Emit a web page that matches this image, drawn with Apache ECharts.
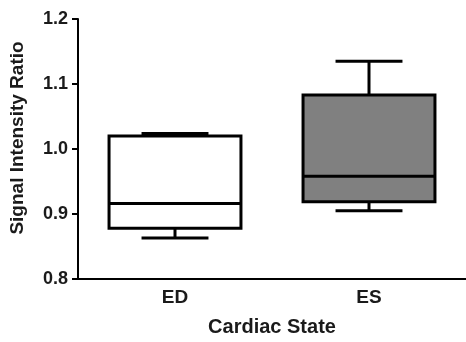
<!DOCTYPE html>
<html>
<head>
<meta charset="utf-8">
<script src="https://cdn.jsdelivr.net/npm/echarts@6/dist/echarts.min.js"></script>
<style>
  html, body { margin: 0; padding: 0; background: #fff; }
  #chart { width: 466px; height: 342px; }
</style>
</head>
<body>
<div id="chart"></div>
<script>
// categories and box statistics
const states = ['ED', 'ES'];
const whiskerLow = [0.863, 0.905];
const quartile1 = [0.878, 0.919];
const medians = [0.916, 0.958];
const quartile3 = [1.020, 1.083];
const whiskerHigh = [1.024, 1.135];
const boxFills = ['#ffffff', '#808080'];

const boxData = states.map((s, i) => [i, whiskerLow[i], quartile1[i], medians[i], quartile3[i], whiskerHigh[i]]);

const chart = echarts.init(document.getElementById('chart'));

const textColor = '#1a1a1a';
const fontFamily = '"Liberation Sans", Arial, sans-serif';

// draws one box with half-width whisker caps
function renderBox(params, api) {
  const idx = api.value(0);
  const band = api.size([1, 0])[0];
  const boxW = band * 0.68;
  const capW = band * 0.345;
  const pMin = api.coord([idx, api.value(1)]);
  const pQ1 = api.coord([idx, api.value(2)]);
  const pMed = api.coord([idx, api.value(3)]);
  const pQ3 = api.coord([idx, api.value(4)]);
  const pMax = api.coord([idx, api.value(5)]);
  const cx = pMed[0];
  const lineStyle = { stroke: '#000', lineWidth: 3 };
  return {
    type: 'group',
    children: [
      { type: 'line', shape: { x1: cx, y1: pQ1[1], x2: cx, y2: pMin[1] }, style: lineStyle },
      { type: 'line', shape: { x1: cx, y1: pQ3[1], x2: cx, y2: pMax[1] }, style: lineStyle },
      { type: 'line', shape: { x1: cx - capW / 2, y1: pMin[1], x2: cx + capW / 2, y2: pMin[1] }, style: lineStyle },
      { type: 'line', shape: { x1: cx - capW / 2, y1: pMax[1], x2: cx + capW / 2, y2: pMax[1] }, style: lineStyle },
      {
        type: 'rect',
        shape: { x: cx - boxW / 2, y: pQ3[1], width: boxW, height: pQ1[1] - pQ3[1] },
        style: { fill: boxFills[idx], stroke: '#000', lineWidth: 3 }
      },
      { type: 'line', shape: { x1: cx - boxW / 2, y1: pMed[1], x2: cx + boxW / 2, y2: pMed[1] }, style: lineStyle }
    ]
  };
}

chart.setOption({
  animation: false,
  backgroundColor: '#fff',
  grid: { left: 77, right: 0, top: 19, bottom: 61 },
  xAxis: {
    type: 'category',
    data: states,
    name: 'Cardiac State',
    nameLocation: 'middle',
    nameGap: 38,
    nameTextStyle: { color: textColor, fontSize: 20, fontWeight: 'bold', fontFamily: fontFamily },
    axisLine: { lineStyle: { color: '#000', width: 2 } },
    axisTick: { alignWithLabel: true, length: 5, lineStyle: { color: '#000', width: 2 } },
    axisLabel: { color: textColor, fontSize: 19, fontWeight: 'bold', fontFamily: fontFamily, margin: 9 },
    splitLine: { show: false }
  },
  yAxis: {
    type: 'value',
    min: 0.8,
    max: 1.2,
    interval: 0.1,
    name: 'Signal Intensity Ratio',
    nameLocation: 'middle',
    nameGap: 51,
    nameTextStyle: {
      color: textColor, fontSize: 19, fontWeight: 'bold', fontFamily: fontFamily,
      padding: [0, 0, 0, 22]
    },
    axisLine: { show: true, lineStyle: { color: '#000', width: 2 } },
    axisTick: { show: true, length: 6, lineStyle: { color: '#000', width: 2 } },
    axisLabel: {
      color: textColor, fontSize: 18, fontWeight: 'bold', fontFamily: fontFamily, margin: 10,
      formatter: v => v.toFixed(1)
    },
    splitLine: { show: false }
  },
  series: [{
    type: 'custom',
    renderItem: renderBox,
    encode: { x: 0, y: [1, 2, 3, 4, 5] },
    data: boxData
  }]
});
</script>
</body>
</html>
